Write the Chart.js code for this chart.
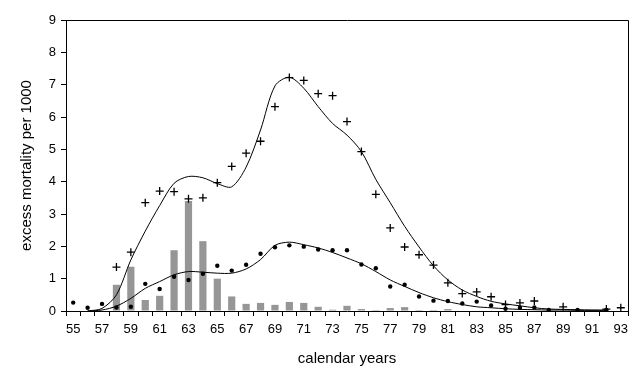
<!DOCTYPE html>
<html>
<head>
<meta charset="utf-8">
<script src="https://cdn.jsdelivr.net/npm/chart.js@4/dist/chart.umd.min.js"></script>
<style>
html,body{margin:0;padding:0;background:#fff;}
#wrap{width:641px;height:384px;}
</style>
</head>
<body>
<div id="wrap"><canvas id="c" width="641" height="384"></canvas></div>
<script>
const years = [];
for (let y = 55; y <= 93; y++) years.push(String(y));

const barValues = [0,0,0,0.81,1.37,0.34,0.47,1.88,3.40,2.16,1.00,0.45,0.22,0.25,0.19,0.28,0.25,0.13,0.04,0.16,0.06,0.03,0.09,0.12,0.03,0.03,0.06,0,0,0,0,0,0,0,0,0,0,0,0];

const plusValues = [null,null,null,1.36,1.82,3.35,3.71,3.69,3.47,3.50,3.97,4.47,4.88,5.25,6.32,7.22,7.13,6.72,6.66,5.86,4.93,3.61,2.57,1.98,1.74,1.42,0.87,0.54,0.59,0.44,0.20,0.25,0.31,null,0.13,null,null,0.06,0.10];

const dotValues = [0.26,0.10,0.22,0.11,0.13,0.84,0.68,1.06,0.96,1.15,1.40,1.25,1.43,1.77,1.97,2.03,1.99,1.90,1.88,1.88,1.44,1.32,0.76,0.81,0.45,0.32,0.31,0.23,0.29,0.17,0.07,0.10,0.11,0.03,null,0.03,null,0.03,null];

const upperCurve = [null,0.0,0.08,0.50,1.58,2.47,3.26,3.95,4.16,4.12,3.94,3.84,4.45,5.60,6.96,7.23,6.89,6.32,5.80,5.44,4.93,4.07,3.35,2.62,1.98,1.40,0.96,0.65,0.45,0.30,0.22,0.16,0.10,0.06,0.05,0.04,0.03,0.03,null];

const lowerCurve = [null,0.0,0.03,0.15,0.39,0.70,0.91,1.12,1.22,1.20,1.17,1.17,1.30,1.59,2.03,2.13,2.05,1.95,1.81,1.64,1.46,1.22,0.96,0.76,0.57,0.41,0.29,0.20,0.13,0.10,0.07,0.05,0.04,0.03,0.03,0.02,0.02,0.02,null];

const yTicks = [0,1,2,3,4,5,6,7,8,9];

const FONT = "'Liberation Sans', Arial, sans-serif";

const frame = {
  id: 'frame',
  afterDraw(chart) {
    const a = chart.chartArea, ctx = chart.ctx;
    ctx.save();
    ctx.strokeStyle = '#000';
    ctx.lineWidth = 1;
    ctx.beginPath();
    ctx.moveTo(Math.round(a.left) + 0.5, Math.round(a.top) + 0.5);
    ctx.lineTo(Math.round(a.right) + 0.5, Math.round(a.top) + 0.5);
    ctx.lineTo(Math.round(a.right) + 0.5, Math.round(a.bottom) + 0.5);
    ctx.stroke();
    ctx.restore();
  }
};

new Chart(document.getElementById('c'), {
  type: 'bar',
  data: {
    labels: years,
    datasets: [
      { type: 'line', data: upperCurve, borderColor: '#000', borderWidth: 1, pointRadius: 0, tension: 0.3, fill: false, order: 1 },
      { type: 'line', data: lowerCurve, borderColor: '#000', borderWidth: 1, pointRadius: 0, tension: 0.3, fill: false, order: 1 },
      { type: 'line', data: plusValues, showLine: false, pointStyle: 'cross', pointRadius: 4, borderColor: '#000', pointBorderWidth: 1.3, order: 0 },
      { type: 'line', data: dotValues, showLine: false, pointStyle: 'circle', pointRadius: 2.2, backgroundColor: '#000', borderColor: '#000', pointBorderWidth: 0, order: 0 },
      { type: 'bar', data: barValues, backgroundColor: '#969696', borderWidth: 0, barPercentage: 0.5, categoryPercentage: 1.0, order: 5 }
    ]
  },
  options: {
    responsive: false,
    animation: false,
    events: [],
    layout: { padding: { left: 0, right: 13, top: 20, bottom: 0 } },
    plugins: { legend: { display: false }, tooltip: { enabled: false } },
    scales: {
      x: {
        type: 'category',
        offset: true,
        grid: { display: true, drawOnChartArea: false, drawTicks: true, tickLength: 5, color: '#000', offset: true },
        border: { display: true, color: '#000', width: 1 },
        ticks: {
          autoSkip: false, maxRotation: 0, minRotation: 0, padding: 6, color: '#000',
          font: { family: FONT, size: 13 },
          callback: function(v, i) { return i % 2 === 0 ? years[i] : ''; }
        },
        title: { display: true, text: 'calendar years', color: '#000', font: { family: FONT, size: 15 }, padding: { top: 0, bottom: 16 } },
        afterFit(s) { s.height = 73; }
      },
      y: {
        min: 0, max: 9,
        grid: { display: true, drawOnChartArea: false, drawTicks: true, tickLength: 5, color: '#000' },
        border: { display: true, color: '#000', width: 1 },
        afterBuildTicks(s) { s.ticks = yTicks.map(v => ({ value: v })); },
        ticks: { color: '#000', padding: 5, font: { family: FONT, size: 13 } },
        title: { display: true, text: 'excess mortality per 1000', color: '#000', font: { family: FONT, size: 15 }, padding: { top: 18, bottom: 0 } },
        afterFit(s) { s.width = 66; }
      }
    }
  },
  plugins: [frame]
});
</script>
</body>
</html>
